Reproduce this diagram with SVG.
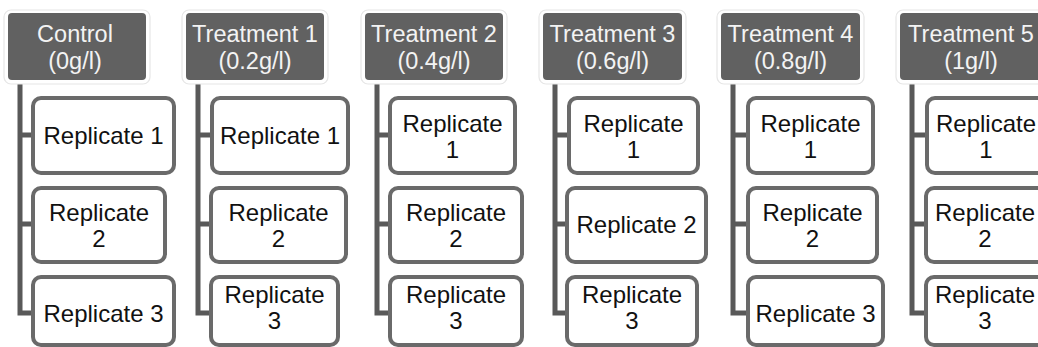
<svg xmlns="http://www.w3.org/2000/svg" width="1038" height="347" viewBox="0 0 1038 347">
<style>
.hdr{fill:#616161;}
.halo{fill:#ffffff;stroke:#e6e6e6;stroke-width:1.2;}
.ht{fill:#f3f3f3;font-family:"Liberation Sans",Arial,sans-serif;font-size:23.5px;text-anchor:middle;}
.box{fill:#ffffff;stroke:#6a6a6a;stroke-width:4;}
.bt{fill:#111111;font-family:"Liberation Sans",Arial,sans-serif;font-size:24px;text-anchor:middle;}
.con{fill:none;stroke:#595959;stroke-width:5;stroke-linejoin:miter;}
</style>
<rect width="1038" height="347" fill="#ffffff"/>
<g id="connectors">
<path class="con" d="M20,80 V313 H33 M20,135 H33 M20,224 H33"/>
<path class="con" d="M198,80 V313 H212 M198,135 H212 M198,224 H212"/>
<path class="con" d="M377,80 V313 H390 M377,135 H390 M377,224 H390"/>
<path class="con" d="M555,80 V313 H567 M555,135 H567 M555,224 H567"/>
<path class="con" d="M733,80 V313 H748 M733,135 H748 M733,224 H748"/>
<path class="con" d="M912,80 V313 H926 M912,135 H926 M912,224 H926"/>
</g>
<g id="control">
<rect class="halo" x="4" y="10" width="146" height="74" rx="7"/>
<rect class="hdr" x="8" y="13" width="138" height="67" rx="4"/>
<text class="ht" x="75" y="42">Control</text>
<text class="ht" x="75" y="69">(0g/l)</text>
</g>
<g id="control-r1"><rect class="box" x="33" y="98" width="141" height="75" rx="8"/><text class="bt" x="103.5" y="144">Replicate 1</text></g>
<g id="control-r2"><rect class="box" x="33" y="188" width="132" height="74" rx="8"/><text class="bt" x="99" y="221">Replicate</text><text class="bt" x="99" y="247">2</text></g>
<g id="control-r3"><rect class="box" x="33" y="277" width="141" height="68" rx="8"/><text class="bt" x="103.5" y="322">Replicate 3</text></g>

<g id="t1">
<rect class="halo" x="182" y="10" width="146" height="74" rx="7"/>
<rect class="hdr" x="186" y="13" width="138" height="67" rx="4"/>
<text class="ht" x="255" y="42">Treatment 1</text>
<text class="ht" x="255" y="69">(0.2g/l)</text>
</g>
<g id="t1-r1"><rect class="box" x="212" y="98" width="136" height="75" rx="8"/><text class="bt" x="280" y="144">Replicate 1</text></g>
<g id="t1-r2"><rect class="box" x="211" y="188" width="135" height="74" rx="8"/><text class="bt" x="278.5" y="221">Replicate</text><text class="bt" x="278.5" y="247">2</text></g>
<g id="t1-r3"><rect class="box" x="211" y="277" width="127" height="68" rx="8"/><text class="bt" x="274.5" y="303">Replicate</text><text class="bt" x="274.5" y="329">3</text></g>

<g id="t2">
<rect class="halo" x="361" y="10" width="146" height="74" rx="7"/>
<rect class="hdr" x="365" y="13" width="138" height="67" rx="4"/>
<text class="ht" x="434" y="42">Treatment 2</text>
<text class="ht" x="434" y="69">(0.4g/l)</text>
</g>
<g id="t2-r1"><rect class="box" x="390" y="98" width="125" height="75" rx="8"/><text class="bt" x="452.5" y="132">Replicate</text><text class="bt" x="452.5" y="158">1</text></g>
<g id="t2-r2"><rect class="box" x="390" y="188" width="132" height="74" rx="8"/><text class="bt" x="456" y="221">Replicate</text><text class="bt" x="456" y="247">2</text></g>
<g id="t2-r3"><rect class="box" x="390" y="277" width="132" height="68" rx="8"/><text class="bt" x="456" y="303">Replicate</text><text class="bt" x="456" y="329">3</text></g>

<g id="t3">
<rect class="halo" x="539" y="10" width="147" height="74" rx="7"/>
<rect class="hdr" x="543" y="13" width="139" height="67" rx="4"/>
<text class="ht" x="612.5" y="42">Treatment 3</text>
<text class="ht" x="612.5" y="69">(0.6g/l)</text>
</g>
<g id="t3-r1"><rect class="box" x="569" y="98" width="129" height="75" rx="8"/><text class="bt" x="633.5" y="132">Replicate</text><text class="bt" x="633.5" y="158">1</text></g>
<g id="t3-r2"><rect class="box" x="567" y="188" width="139" height="74" rx="8"/><text class="bt" x="636.5" y="233">Replicate 2</text></g>
<g id="t3-r3"><rect class="box" x="567" y="277" width="130" height="68" rx="8"/><text class="bt" x="632" y="303">Replicate</text><text class="bt" x="632" y="329">3</text></g>

<g id="t4">
<rect class="halo" x="717" y="10" width="147" height="74" rx="7"/>
<rect class="hdr" x="721" y="13" width="139" height="67" rx="4"/>
<text class="ht" x="790.5" y="42">Treatment 4</text>
<text class="ht" x="790.5" y="69">(0.8g/l)</text>
</g>
<g id="t4-r1"><rect class="box" x="748" y="98" width="125" height="75" rx="8"/><text class="bt" x="810.5" y="132">Replicate</text><text class="bt" x="810.5" y="158">1</text></g>
<g id="t4-r2"><rect class="box" x="748" y="188" width="129" height="74" rx="8"/><text class="bt" x="812.5" y="221">Replicate</text><text class="bt" x="812.5" y="247">2</text></g>
<g id="t4-r3"><rect class="box" x="748" y="277" width="135" height="68" rx="8"/><text class="bt" x="815.5" y="322">Replicate 3</text></g>

<g id="t5">
<rect class="halo" x="896" y="10" width="150" height="74" rx="7"/>
<rect class="hdr" x="900" y="13" width="142" height="67" rx="4"/>
<text class="ht" x="971" y="42">Treatment 5</text>
<text class="ht" x="971" y="69">(1g/l)</text>
</g>
<g id="t5-r1"><rect class="box" x="927" y="98" width="120" height="75" rx="8"/><text class="bt" x="986" y="132">Replicate</text><text class="bt" x="986" y="158">1</text></g>
<g id="t5-r2"><rect class="box" x="926" y="188" width="120" height="74" rx="8"/><text class="bt" x="985" y="221">Replicate</text><text class="bt" x="985" y="247">2</text></g>
<g id="t5-r3"><rect class="box" x="926" y="277" width="120" height="68" rx="8"/><text class="bt" x="985" y="303">Replicate</text><text class="bt" x="985" y="329">3</text></g>
</svg>
